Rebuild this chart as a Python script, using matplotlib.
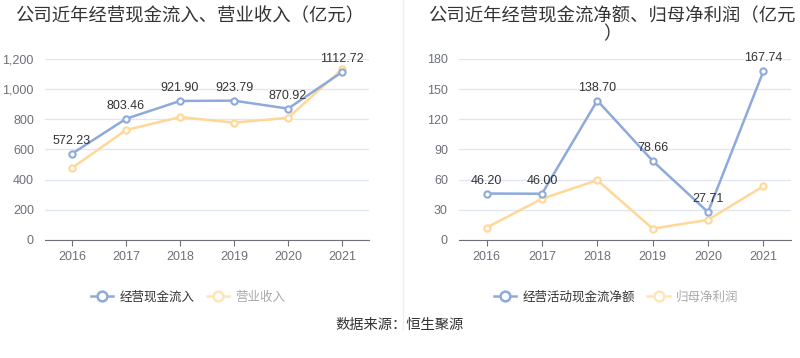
import matplotlib
matplotlib.use('Agg')
import matplotlib.pyplot as plt
from matplotlib.lines import Line2D
from matplotlib.ticker import FuncFormatter

plt.rcParams['font.family'] = ['Noto Sans CJK SC', 'DejaVu Sans']

years = ['2016', '2017', '2018', '2019', '2020', '2021']
cash_inflow = [572.23, 803.46, 921.90, 923.79, 870.92, 1112.72]
revenue = [477, 729, 815, 778, 810, 1132]
net_cash = [46.20, 46.00, 138.70, 78.66, 27.71, 167.74]
net_profit = [12.4, 41.0, 59.5, 11.3, 20.0, 53.5]

BLUE = '#8daadb'
YELLOW = '#ffd796'
GRID = '#e0e6f1'
AXIS = '#6e7079'

fig = plt.figure(figsize=(8, 3.58), dpi=100)


def draw(ax, main, second, ylim, yticks, fmt):
    x = range(len(years))
    ax.plot(x, main, color=BLUE, lw=1.8, marker='o', ms=4.5, mfc='white',
            mec=BLUE, mew=1.5, zorder=4)
    ax.plot(x, second, color=YELLOW, lw=1.8, marker='o', ms=4.5, mfc='white',
            mec=YELLOW, mew=1.5, zorder=3)
    for i, v in enumerate(main):
        ax.annotate(f'{v:.2f}', (i, v), xytext=(0, 5), textcoords='offset points',
                    ha='center', va='bottom', fontsize=9, color='#333333',
                    family='Liberation Sans', zorder=5)
    ax.set_xlim(-0.5, len(years) - 0.5)
    ax.set_ylim(*ylim)
    ax.set_yticks(yticks)
    ax.yaxis.set_major_formatter(FuncFormatter(fmt))
    ax.set_xticks(list(x))
    ax.set_xticklabels(years)
    ax.grid(axis='y', color=GRID, lw=0.9)
    ax.set_axisbelow(True)
    for s in ['top', 'right', 'left']:
        ax.spines[s].set_visible(False)
    ax.spines['bottom'].set_color(AXIS)
    ax.tick_params(axis='y', length=0, pad=8, labelsize=9, labelcolor=AXIS)
    ax.tick_params(axis='x', length=4, color=AXIS, pad=4, labelsize=9, labelcolor=AXIS)
    for lab in ax.get_xticklabels() + ax.get_yticklabels():
        lab.set_family('Liberation Sans')


ax1 = fig.add_axes([45 / 800, 1 - 240 / 358, 324 / 800, 181 / 358])
draw(ax1, cash_inflow, revenue, (0, 1200), range(0, 1201, 200),
     lambda v, p: f'{int(v):,}')

ax2 = fig.add_axes([459 / 800, 1 - 240 / 358, 332 / 800, 181 / 358])
draw(ax2, net_cash, net_profit, (0, 180), range(0, 181, 30),
     lambda v, p: f'{int(v)}')

fig.text(190 / 800, 1 - 16 / 358, '公司近年经营现金流入、营业收入（亿元）',
         ha='center', va='center', fontsize=13.2, color='#333333')
fig.text(612 / 800, 1 - 25 / 358, '公司近年经营现金流净额、归母净利润（亿元\n）',
         ha='center', va='center', fontsize=13.2, color='#333333', linespacing=1.0)

fig.add_artist(Line2D([403 / 800, 403 / 800], [0.08, 1.0], color='#eeeeee', lw=1))


def legend(ax, names, cx):
    handles = [Line2D([], [], color=BLUE, lw=1.8, marker='o', ms=7, mfc='white', mec=BLUE, mew=1.8),
               Line2D([], [], color='#ffe5b8', lw=1.8, marker='o', ms=7, mfc='white', mec='#ffe5b8', mew=1.8)]
    leg = fig.legend(handles, names, loc='center', bbox_to_anchor=(cx, 1 - 297 / 358),
                     ncol=2, frameon=False, fontsize=9, handlelength=1.8,
                     handletextpad=0.5, columnspacing=1.0)
    texts = leg.get_texts()
    texts[0].set_color('#333333')
    texts[1].set_color('#aaaaaa')


legend(ax1, ['经营现金流入', '营业收入'], 188 / 800)
legend(ax2, ['经营活动现金流净额', '归母净利润'], 616 / 800)

fig.text(400 / 800, 1 - 325 / 358, '数据来源：恒生聚源', ha='center', va='center',
         fontsize=10.3, color='#333333')

fig.savefig('out.png', dpi=100)
